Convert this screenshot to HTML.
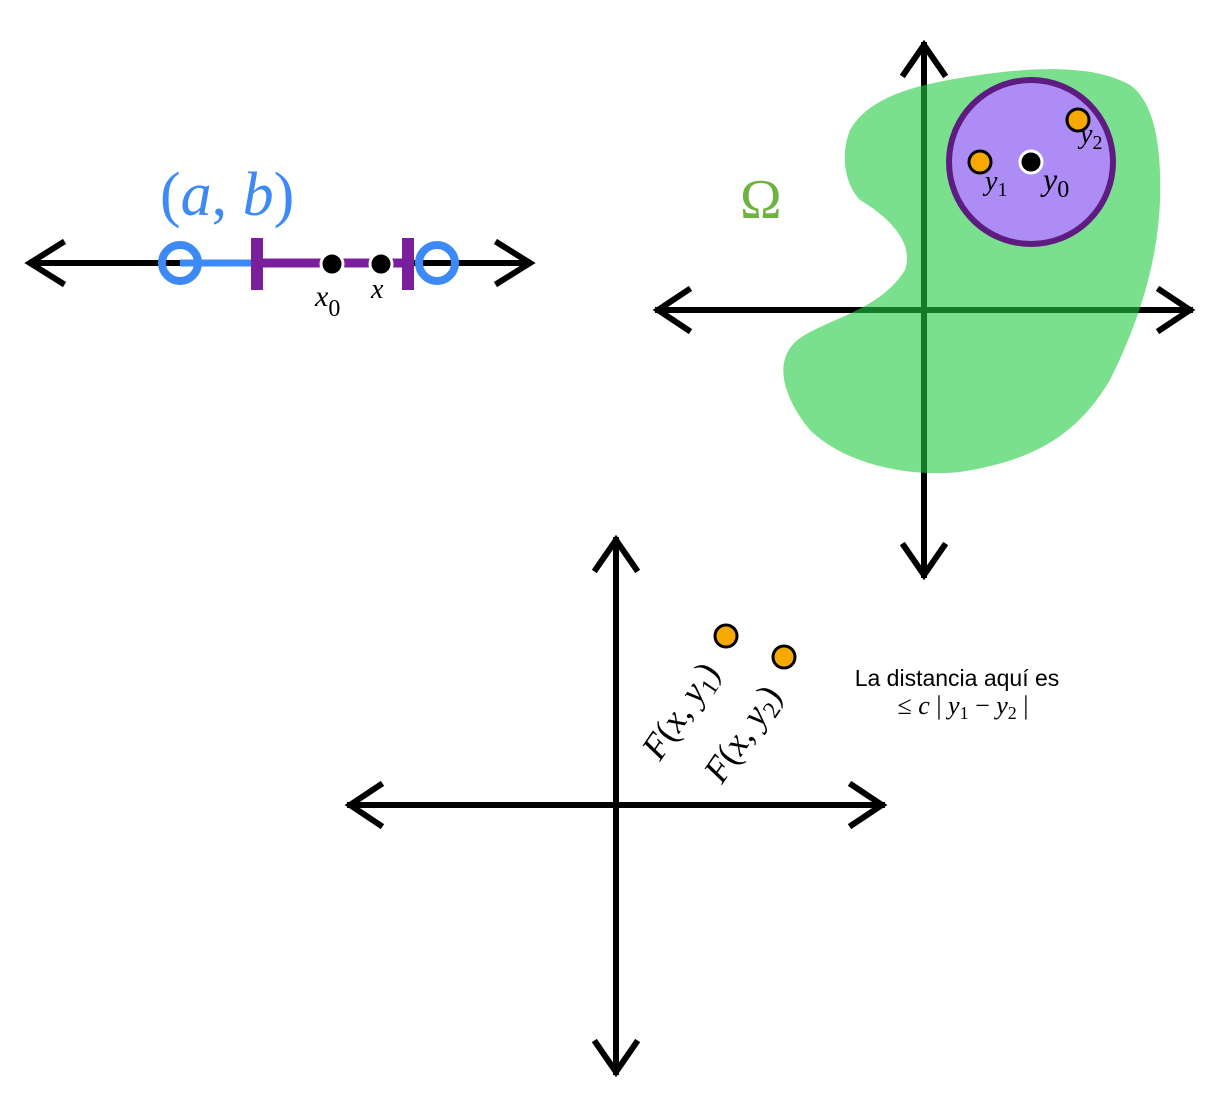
<!DOCTYPE html>
<html><head><style>body{margin:0;background:#fff}svg{display:block}</style></head><body>
<svg width="1220" height="1099" viewBox="0 0 1220 1099" xmlns="http://www.w3.org/2000/svg" font-family="Liberation Serif, serif">
<g stroke="#000" stroke-width="6" fill="none" stroke-linecap="square">
<line x1="32" y1="263" x2="528" y2="263"/>
<polyline points="62,243 30,263 62,283"/>
<polyline points="498,243 530,263 498,283"/>
<line x1="658" y1="310" x2="1190" y2="310"/>
<polyline points="688,290 658,310 688,330"/>
<polyline points="1160,290 1190,310 1160,330"/>
<line x1="924" y1="45" x2="924" y2="575"/>
<polyline points="904,74 924,45 944,74"/>
<polyline points="904,546 924,575 944,546"/>
<line x1="350" y1="805" x2="882" y2="805"/>
<polyline points="380,785 350,805 380,825"/>
<polyline points="852,785 882,805 852,825"/>
<line x1="616" y1="540" x2="616" y2="1072"/>
<polyline points="596,569 616,540 636,569"/>
<polyline points="596,1043 616,1072 636,1043"/>
</g>
<path d="M850,130 C870,95 920,85 960,78 C1020,68 1090,62 1130,85 C1152,100 1162,140 1160,200 C1158,260 1140,320 1110,380 C1080,430 1040,460 960,472 C900,478 840,460 810,430 C785,400 770,360 800,338 C830,318 880,310 905,270 C915,240 885,215 860,200 C845,185 840,155 850,130 Z" fill="rgb(35,203,65)" fill-opacity="0.6"/>
<circle cx="1031" cy="162" r="82" fill="#ad8cf5" stroke="#5e1b80" stroke-width="6"/>
<circle cx="1031" cy="162" r="11" fill="#000" stroke="#fff" stroke-width="3"/>
<circle cx="980" cy="162" r="11" fill="#f8a900" stroke="#000" stroke-width="3"/>
<circle cx="1078" cy="120" r="11" fill="#f8a900" stroke="#000" stroke-width="3"/>
<text x="985" y="190" font-size="28" font-style="italic">y<tspan font-size="20" font-style="normal" dy="6">1</tspan></text>
<text x="1043" y="190" font-size="32" font-style="italic">y<tspan font-size="24" font-style="normal" dy="7">0</tspan></text>
<text x="1080" y="143" font-size="28" font-style="italic">y<tspan font-size="20" font-style="normal" dy="6">2</tspan></text>
<text x="740" y="218" font-size="56" fill="#6db33f">Ω</text>
<line x1="180" y1="263" x2="255" y2="263" stroke="#3d8af7" stroke-width="7"/>
<line x1="255" y1="263" x2="410" y2="263" stroke="#7a1f9c" stroke-width="9"/>
<line x1="257" y1="238" x2="257" y2="290" stroke="#7a1f9c" stroke-width="12"/>
<line x1="408" y1="238" x2="408" y2="290" stroke="#7a1f9c" stroke-width="12"/>
<circle cx="180" cy="263" r="18" fill="none" stroke="#3d8af7" stroke-width="8"/>
<circle cx="437" cy="263" r="18" fill="none" stroke="#3d8af7" stroke-width="8"/>
<circle cx="332" cy="264" r="11" fill="#000" stroke="#fff" stroke-width="3"/>
<circle cx="381" cy="264" r="11" fill="#000" stroke="#fff" stroke-width="3"/>
<text x="315" y="306" font-size="30" font-style="italic">x<tspan font-size="24" font-style="normal" dy="10">0</tspan></text>
<text x="371" y="298" font-size="28" font-style="italic">x</text>
<text x="160" y="215" font-size="62" fill="#3d8af7" font-style="italic"><tspan font-style="normal">(</tspan>a<tspan font-style="normal">, </tspan>b<tspan font-style="normal">)</tspan></text>
<circle cx="726" cy="636" r="11" fill="#f8a900" stroke="#000" stroke-width="3"/>
<circle cx="784" cy="657" r="11" fill="#f8a900" stroke="#000" stroke-width="3"/>
<text transform="translate(660,762) rotate(-56)" font-size="36" font-style="italic">F<tspan font-style="normal">(</tspan>x<tspan font-style="normal">, </tspan>y<tspan font-size="24" font-style="normal" dy="7">1</tspan><tspan font-style="normal" dy="-7">)</tspan></text>
<text transform="translate(722,785) rotate(-56)" font-size="36" font-style="italic">F<tspan font-style="normal">(</tspan>x<tspan font-style="normal">, </tspan>y<tspan font-size="24" font-style="normal" dy="7">2</tspan><tspan font-style="normal" dy="-7">)</tspan></text>
<text x="957" y="686" font-size="23" text-anchor="middle" font-family="Liberation Sans, sans-serif">La distancia aquí es</text>
<text x="963" y="714" font-size="26" text-anchor="middle">≤ <tspan font-style="italic">c</tspan> | <tspan font-style="italic">y</tspan><tspan font-size="18" dy="5">1</tspan><tspan dy="-5"> − </tspan><tspan font-style="italic">y</tspan><tspan font-size="18" dy="5">2</tspan><tspan dy="-5"> |</tspan></text>
</svg>
</body></html>
